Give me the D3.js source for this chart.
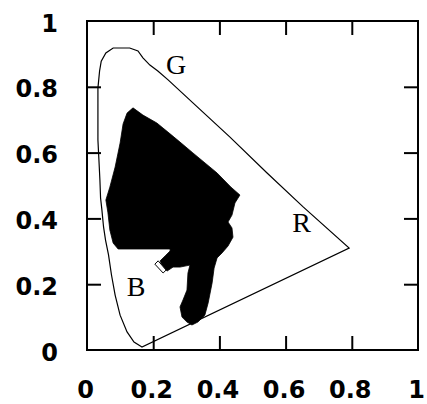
<!DOCTYPE html>
<html>
<head>
<meta charset="utf-8">
<script src="https://cdn.jsdelivr.net/npm/d3@7/dist/d3.min.js"></script>
<style>
  html, body { margin: 0; padding: 0; background: #fff; }
  svg { display: block; }
</style>
</head>
<body>
<svg id="chart" width="427" height="404"></svg>
<script>
// Spectral locus (chromaticity x, y)
const locusX = [0.166,0.142,0.121,0.100,0.085,0.074,0.065,0.056,0.050,0.045,0.041,0.039,0.036,0.033,0.033,0.033,0.038,0.043,0.057,0.079,0.129,0.154,0.169,0.190,0.214,0.245,0.320,0.432,0.544,0.653,0.792];
const locusY = [0.009,0.024,0.055,0.106,0.167,0.228,0.289,0.334,0.374,0.426,0.462,0.517,0.578,0.638,0.729,0.796,0.848,0.878,0.903,0.918,0.918,0.909,0.888,0.866,0.848,0.821,0.751,0.647,0.538,0.435,0.310];

// Gamut region (filled black)
const gamutX = [0.139,0.169,0.211,0.251,0.281,0.320,0.393,0.435,0.462,0.447,0.438,0.426,0.438,0.441,0.426,0.408,0.393,0.384,0.378,0.366,0.356,0.335,0.317,0.302,0.287,0.281,0.290,0.302,0.305,0.311,0.281,0.260,0.242,0.227,0.221,0.236,0.251,0.251,0.094,0.079,0.069,0.063,0.057,0.069,0.085,0.100,0.109,0.121];
const gamutY = [0.736,0.714,0.690,0.657,0.632,0.599,0.538,0.495,0.471,0.447,0.410,0.389,0.371,0.343,0.316,0.295,0.280,0.249,0.204,0.143,0.106,0.085,0.076,0.085,0.100,0.131,0.152,0.182,0.234,0.258,0.252,0.252,0.240,0.255,0.271,0.286,0.301,0.307,0.307,0.325,0.365,0.419,0.456,0.495,0.556,0.629,0.687,0.720];

// Small outlined fragment
const fragX = [0.205,0.215,0.239,0.230];
const fragY = [0.261,0.271,0.243,0.234];

// Primary labels
const primaryNames = ["G","R","B"];
const primaryX = [0.269,0.648,0.148];
const primaryY = [0.839,0.359,0.164];

// Axis ticks
const tickLabels = [0, 0.2, 0.4, 0.6, 0.8, 1];
const innerTicks = [0.2, 0.4, 0.6, 0.8];

const svg = d3.select("#chart");
const x = d3.scaleLinear().domain([0, 1]).range([87, 418]);
const y = d3.scaleLinear().domain([0, 1]).range([350, 21]);

const line = d3.line().x(d => x(d[0])).y(d => y(d[1])).curve(d3.curveLinearClosed);

// Gamut
svg.append("path")
  .datum(gamutX.map((v, i) => [v, gamutY[i]]))
  .attr("d", line)
  .attr("fill", "#000")
  .attr("stroke", "#000")
  .attr("stroke-width", 0.8);

svg.append("path")
  .datum(fragX.map((v, i) => [v, fragY[i]]))
  .attr("d", line)
  .attr("fill", "#fff")
  .attr("stroke", "#000")
  .attr("stroke-width", 1);

// Locus
svg.append("path")
  .datum(locusX.map((v, i) => [v, locusY[i]]))
  .attr("d", line)
  .attr("fill", "none")
  .attr("stroke", "#000")
  .attr("stroke-width", 1.2);

// Labels
svg.selectAll("text.prim")
  .data(primaryNames)
  .join("text")
  .attr("class", "prim")
  .attr("x", (d, i) => x(primaryX[i]))
  .attr("y", (d, i) => y(primaryY[i]))
  .attr("text-anchor", "middle")
  .attr("font-family", "'Liberation Serif', serif")
  .attr("font-size", 28)
  .attr("fill", "#000")
  .text(d => d);

// Axes
const fmt = d => d3.format("")(d);
const styleAxis = g => {
  g.select(".domain").remove();
  g.selectAll(".tick line").attr("stroke", "#000").attr("stroke-width", 2);
  g.selectAll(".tick text")
    .attr("font-family", "'DejaVu Sans', sans-serif")
    .attr("font-weight", "bold")
    .attr("font-size", 24)
    .attr("fill", "#000");
};

svg.append("g")
  .attr("transform", "translate(0,350)")
  .call(d3.axisBottom(x).tickValues(tickLabels).tickFormat(fmt).tickSizeInner(-14).tickSizeOuter(0).tickPadding(31))
  .call(styleAxis)
  .call(g => g.selectAll(".tick text").attr("dx", -2))
  .call(g => g.selectAll(".tick").filter(d => d === 0 || d === 1).select("line").remove());

svg.append("g")
  .attr("transform", "translate(87,0)")
  .call(d3.axisLeft(y).tickValues(tickLabels).tickFormat(fmt).tickSizeInner(-14).tickSizeOuter(0).tickPadding(29))
  .call(styleAxis)
  .call(g => g.selectAll(".tick text").attr("dy", "0.42em"))
  .call(g => g.selectAll(".tick").filter(d => d === 0 || d === 1).select("line").remove());

svg.append("g")
  .attr("transform", "translate(0,21)")
  .call(d3.axisTop(x).tickValues(innerTicks).tickFormat("").tickSizeInner(-14).tickSizeOuter(0))
  .call(styleAxis);

svg.append("g")
  .attr("transform", "translate(418,0)")
  .call(d3.axisRight(y).tickValues(innerTicks).tickFormat("").tickSizeInner(-14).tickSizeOuter(0))
  .call(styleAxis);

// Frame
svg.append("rect")
  .attr("x", x(0)).attr("y", y(1))
  .attr("width", x(1) - x(0)).attr("height", y(0) - y(1))
  .attr("fill", "none")
  .attr("stroke", "#000")
  .attr("stroke-width", 2);
</script>
</body>
</html>
